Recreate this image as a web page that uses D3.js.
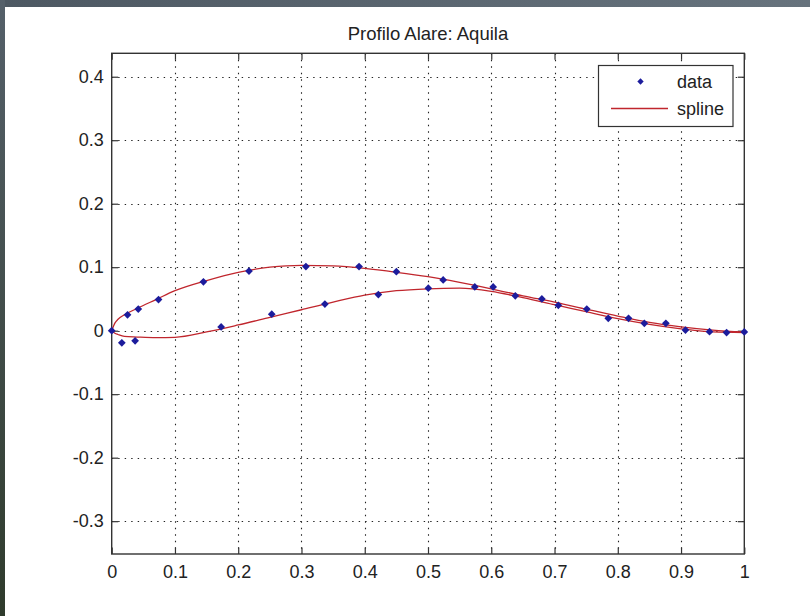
<!DOCTYPE html>
<html>
<head>
<meta charset="utf-8">
<script src="https://cdn.jsdelivr.net/npm/d3@7"></script>
<style>
  body { margin: 0; background: #fff; }
  text { font-family: "Liberation Sans", Arial, sans-serif; fill: #222; }
</style>
</head>
<body>
<div id="chart"></div>
<script>
var width = 810,
    height = 616;

// axes box (pixels)
var boxL = 111.7, boxR = 744.3, boxT = 53.3, boxB = 554;

var xTicks = [0, 0.1, 0.2, 0.3, 0.4, 0.5, 0.6, 0.7, 0.8, 0.9, 1];
var yTicks = [-0.3, -0.2, -0.1, 0, 0.1, 0.2, 0.3, 0.4];
var xLabels = ["0", "0.1", "0.2", "0.3", "0.4", "0.5", "0.6", "0.7", "0.8", "0.9", "1"];
var yLabels = ["-0.3", "-0.2", "-0.1", "0", "0.1", "0.2", "0.3", "0.4"];

// measured profile points
var dataX = [0, 0.016, 0.025, 0.037, 0.042, 0.074, 0.145, 0.173, 0.217, 0.253, 0.307, 0.337,
             0.391, 0.4215, 0.450, 0.5005, 0.524, 0.574, 0.603, 0.638, 0.680, 0.706, 0.751,
             0.785, 0.817, 0.842, 0.876, 0.907, 0.945, 0.972, 1.0];
var dataY = [0, -0.019, 0.025, -0.016, 0.034, 0.049, 0.077, 0.006, 0.094, 0.026, 0.101, 0.042,
             0.101, 0.057, 0.093, 0.067, 0.080, 0.069, 0.069, 0.055, 0.050, 0.040, 0.034,
             0.0195, 0.0195, 0.0116, 0.0116, 0.001, -0.0015, -0.003, -0.002];

// spline curves (upper and lower side)
var splineX = [0, 0.005, 0.01, 0.02, 0.04, 0.07, 0.1, 0.15, 0.2, 0.25, 0.3, 0.35, 0.4,
               0.45, 0.5, 0.55, 0.6, 0.65, 0.7, 0.75, 0.8, 0.85, 0.9, 0.95, 1.0];
var upperY = [0, 0.012, 0.018, 0.025, 0.035, 0.049, 0.063, 0.079, 0.092, 0.1, 0.103, 0.102, 0.098,
              0.092, 0.085, 0.076, 0.066, 0.055, 0.045, 0.034, 0.023, 0.013, 0.006, 0.001, -0.002];
var lowerY = [0, -0.004, -0.006, -0.009, -0.01, -0.011, -0.0105, -0.002, 0.009, 0.021, 0.033, 0.045, 0.056,
              0.063, 0.066, 0.067, 0.062, 0.052, 0.041, 0.03, 0.019, 0.01, 0.003, -0.002, -0.003];

var svg = d3.select("#chart").append("svg")
    .attr("width", width)
    .attr("height", height)

// window frame bits
var defs = svg.append("defs");
var gTop = defs.append("linearGradient").attr("id", "topband");
gTop.append("stop").attr("offset", "0%").attr("stop-color", "#4d5862");
gTop.append("stop").attr("offset", "100%").attr("stop-color", "#67737d");
var gLeft = defs.append("linearGradient").attr("id", "leftband")
    .attr("x1", 0).attr("y1", 0).attr("x2", 0).attr("y2", 1);
gLeft.append("stop").attr("offset", "0%").attr("stop-color", "#55606a");
gLeft.append("stop").attr("offset", "100%").attr("stop-color", "#2f3b2c");

svg.append("rect").attr("x", 0).attr("y", 0).attr("width", width).attr("height", 7)
    .attr("fill", "url(#topband)");
svg.append("rect").attr("x", 0).attr("y", 0).attr("width", 5).attr("height", height)
    .attr("fill", "url(#leftband)");

var x = d3.scaleLinear().domain([0, 1]).range([boxL, boxR]);
var y = d3.scaleLinear().domain([-0.3517, 0.4369]).range([boxB, boxT]);

// grid
var grid = svg.append("g")
    .attr("stroke", "#222")
    .attr("stroke-width", 1.1)
    .attr("stroke-dasharray", "1.4,5.1");
grid.selectAll(".vg").data(xTicks.slice(1, -1)).enter().append("line")
    .attr("x1", d => Math.round(x(d)) + 0.5).attr("x2", d => Math.round(x(d)) + 0.5)
    .attr("y1", boxT).attr("y2", boxB);
grid.selectAll(".hg").data(yTicks).enter().append("line")
    .attr("y1", d => Math.round(y(d)) + 0.5).attr("y2", d => Math.round(y(d)) + 0.5)
    .attr("x1", boxL).attr("x2", boxR);

// axes
var tickLen = 6.5;
var fmtX = (d, i) => xLabels[i];
var fmtY = (d, i) => yLabels[i];

var axB = svg.append("g").attr("transform", "translate(0," + boxB + ")")
    .call(d3.axisBottom(x).tickValues(xTicks).tickFormat(fmtX).tickSize(-tickLen).tickPadding(11));
var axL = svg.append("g").attr("transform", "translate(" + boxL + ",0)")
    .call(d3.axisLeft(y).tickValues(yTicks).tickFormat(fmtY).tickSize(-tickLen).tickPadding(8));
var axT = svg.append("g").attr("transform", "translate(0," + boxT + ")")
    .call(d3.axisTop(x).tickValues(xTicks).tickFormat("").tickSize(-tickLen));
var axR = svg.append("g").attr("transform", "translate(" + boxR + ",0)")
    .call(d3.axisRight(y).tickValues(yTicks).tickFormat("").tickSize(-tickLen));

[axB, axL, axT, axR].forEach(function(a) {
  a.select(".domain").remove();
  a.selectAll("line").attr("stroke", "#333").attr("stroke-width", 1.2);
  a.selectAll("text").attr("font-size", 18).attr("fill", "#222")
    .attr("font-family", "'Liberation Sans', Arial, sans-serif");
});

svg.append("rect")
    .attr("x", boxL).attr("y", boxT)
    .attr("width", boxR - boxL).attr("height", boxB - boxT)
    .attr("fill", "none").attr("stroke", "#333").attr("stroke-width", 1.4);

// spline lines
var line = d3.line()
    .x(d => x(d[0]))
    .y(d => y(d[1]))
    .curve(d3.curveMonotoneX);

svg.append("path")
    .datum(splineX.map((v, i) => [v, upperY[i]]))
    .attr("d", line)
    .attr("fill", "none").attr("stroke", "#c0262d").attr("stroke-width", 1.3);
svg.append("path")
    .datum(splineX.map((v, i) => [v, lowerY[i]]))
    .attr("d", line)
    .attr("fill", "none").attr("stroke", "#c0262d").attr("stroke-width", 1.3);

// data markers
var diamond = d3.symbol().type(d3.symbolSquare).size(30);
svg.selectAll(".pt").data(dataX).enter().append("path")
    .attr("class", "pt")
    .attr("d", diamond)
    .attr("transform", (d, i) => "translate(" + x(d) + "," + y(dataY[i]) + ") rotate(45)")
    .attr("fill", "#1c1c9c");

// title
svg.append("text")
    .attr("x", (boxL + boxR) / 2)
    .attr("y", 40)
    .attr("text-anchor", "middle")
    .attr("font-size", 18.5)
    .text("Profilo Alare: Aquila");

// legend
var lg = svg.append("g");
lg.append("rect")
    .attr("x", 598.5).attr("y", 65.5)
    .attr("width", 134.5).attr("height", 61)
    .attr("fill", "#fff").attr("stroke", "#333").attr("stroke-width", 1.2);
lg.append("path")
    .attr("d", d3.symbol().type(d3.symbolSquare).size(20))
    .attr("transform", "translate(640.5,81.5) rotate(45)")
    .attr("fill", "#1c1c9c");
lg.append("line")
    .attr("x1", 611).attr("x2", 668).attr("y1", 108.5).attr("y2", 108.5)
    .attr("stroke", "#c0262d").attr("stroke-width", 1.3);
lg.append("text").attr("x", 677).attr("y", 88).attr("font-size", 18).text("data");
lg.append("text").attr("x", 677).attr("y", 114.5).attr("font-size", 18).text("spline");
</script>
</body>
</html>
